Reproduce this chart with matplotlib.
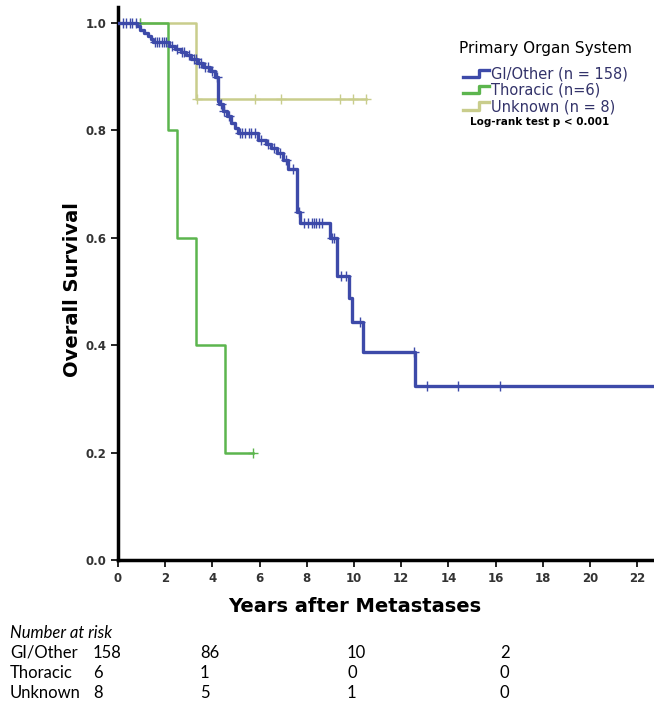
import numpy as np
import matplotlib
matplotlib.use("Agg")
import matplotlib.pyplot as plt
from matplotlib.lines import Line2D
from matplotlib.legend_handler import HandlerBase

# Kaplan-Meier steps: time of drop (years), survival after drop
gi_times = [0.80, 0.95, 1.10, 1.25, 1.40, 1.50, 2.15, 2.40, 2.65, 2.90, 3.10, 3.35,
            3.60, 3.90, 4.10, 4.24, 4.30, 4.45, 4.60, 4.80, 4.95, 5.08, 5.95, 6.25,
            6.50, 6.75, 7.00, 7.20, 7.58, 7.72, 8.98, 9.30, 9.80, 9.90, 10.40, 12.60]
gi_surv = [0.994, 0.987, 0.981, 0.975, 0.969, 0.963, 0.956, 0.950, 0.946, 0.940, 0.933, 0.924,
           0.917, 0.910, 0.898, 0.855, 0.849, 0.836, 0.827, 0.814, 0.803, 0.794, 0.781, 0.775,
           0.766, 0.757, 0.745, 0.728, 0.648, 0.628, 0.600, 0.528, 0.487, 0.442, 0.387, 0.323]
gi_end = 23.0
gi_censor = [0.20, 0.35, 0.50, 0.60, 0.75, 1.55, 1.65, 1.75, 1.85, 1.95, 2.05, 2.30, 2.50,
             2.70, 2.80, 3.00, 3.20, 3.30, 3.45, 3.50, 3.70, 3.80, 4.00, 4.20, 4.35, 4.50,
             4.70, 5.15, 5.25, 5.40, 5.55, 5.65, 5.80, 6.05, 6.35, 6.60, 6.85, 7.10, 7.40,
             7.65, 7.90, 8.05, 8.20, 8.30, 8.40, 8.50, 8.65, 9.05, 9.15, 9.45, 9.65, 10.25,
             12.55, 13.10, 14.40, 16.20]

thor_times = [2.12, 2.50, 3.30, 4.53]
thor_surv = [0.8, 0.6, 0.4, 0.2]
thor_end = 5.70
thor_censor = [0.93, 5.70]

unk_times = [3.30]
unk_surv = [0.857]
unk_end = 10.50
unk_censor = [0.93, 3.35, 5.80, 6.90, 9.40, 9.95, 10.50]

labels = ["GI/Other (n = 158)", "Thoracic (n=6)", "Unknown (n = 8)"]
colors = ["#3d4aa9", "#5cb54e", "#c9cd8c"]
widths = [2.4, 1.8, 1.8]

risk_groups = ["GI/Other", "Thoracic", "Unknown"]
risk_counts = [[158, 86, 10, 2],
               [6, 1, 0, 0],
               [8, 5, 1, 0]]

W, H = 654, 704
fig = plt.figure(figsize=(W / 100, H / 100), dpi=100)
ax = fig.add_axes([118 / W, 1 - 560 / H, (W - 118) / W, (560 - 7) / H])


def km_line(times, surv, end):
    t = np.concatenate([[0.0], times, [end]])
    s = np.concatenate([[1.0], surv, [surv[-1]]])
    return t, s


curves = [(gi_times, gi_surv, gi_end, gi_censor),
          (thor_times, thor_surv, thor_end, thor_censor),
          (unk_times, unk_surv, unk_end, unk_censor)]

# draw unknown first so blue sits on top
for i in [2, 1, 0]:
    times, surv, end, cens = curves[i]
    t, s = km_line(times, surv, end)
    ax.step(t, s, where="post", color=colors[i], lw=widths[i], zorder=3 - i * 0.5)
    cens = np.array(cens)
    cy = s[np.searchsorted(t, cens, side="right") - 1]
    ax.plot(cens, cy, ls="none", marker="+", ms=7, mew=1.0, color=colors[i], zorder=3 - i * 0.5)

ax.set_xlim(0, (W - 118) / 23.6)
ax.set_ylim(0, 1.029)
ax.set_xticks(np.arange(0, 23, 2))
ax.set_yticks(np.arange(0, 1.01, 0.2))
ax.set_yticklabels([f"{v:.1f}" for v in np.arange(0, 1.01, 0.2)])
for side in ["top", "right"]:
    ax.spines[side].set_visible(False)
for side in ["left", "bottom"]:
    ax.spines[side].set_linewidth(2.5)
ax.tick_params(direction="out", length=5, width=1.2, labelsize=8.5, colors="black",
               labelcolor="#333333")
for lab in ax.get_xticklabels() + ax.get_yticklabels():
    lab.set_fontweight("bold")

fig.text(72 / W, 1 - 290 / H, "Overall Survival", rotation=90, ha="center", va="center",
         fontsize=14, fontweight="bold")
fig.text(355 / W, 1 - 606 / H, "Years after Metastases", ha="center", va="center",
         fontsize=14, fontweight="bold")


class StepHandler(HandlerBase):
    def create_artists(self, legend, orig_handle, xdescent, ydescent, width, height,
                       fontsize, trans):
        xs = np.array([0, 0.62, 0.62, 1.0]) * width - xdescent
        ys = np.array([0.15, 0.15, 0.85, 0.85]) * height - ydescent
        line = Line2D(xs, ys, color=orig_handle.get_color(), lw=2.4)
        line.set_transform(trans)
        return [line]


handles = [Line2D([], [], color=c) for c in colors]
leg = ax.legend(handles, labels, title="Primary Organ System", loc="upper left",
                bbox_to_anchor=((453 - 118) / (W - 118), (560 - 35) / 553),
                frameon=False, fontsize=10.5, title_fontsize=11,
                handler_map={Line2D: StepHandler()}, handlelength=1.8,
                handletextpad=0.1, labelspacing=0.1, borderaxespad=0)
leg._legend_box.sep = 7.5
for txt in leg.get_texts():
    txt.set_color("#33336a")
fig.text(540 / W, 1 - 122 / H, "Log-rank test p < 0.001", ha="center", va="center",
         fontsize=7.5, fontweight="bold")

# number at risk table
fig.text(10 / W, 1 - 633 / H, "Number at risk", fontsize=12, style="italic",
         family="Lato", va="center")
col_x = [93, 200, 347, 500]
for r, grp in enumerate(risk_groups):
    y = 1 - (653 + r * 20) / H
    fig.text(10 / W, y, grp, fontsize=12, family="Lato", va="center")
    for c, n in enumerate(risk_counts[r]):
        fig.text(col_x[c] / W, y, str(n), fontsize=12, family="Lato", va="center")

fig.savefig("out.png", dpi=100)
